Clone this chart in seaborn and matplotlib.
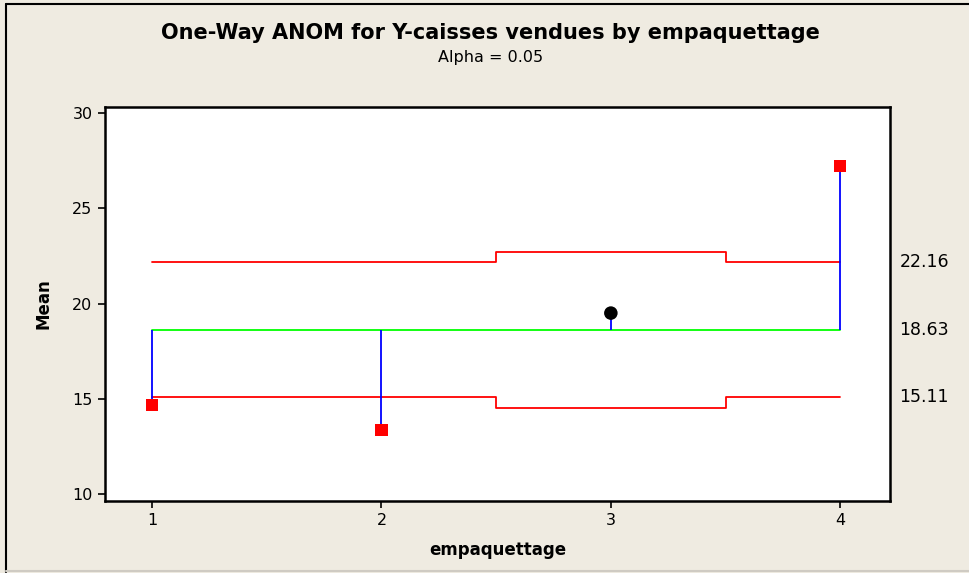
import numpy as np
import pandas as pd
import matplotlib
matplotlib.use("Agg")
import matplotlib.pyplot as plt
import matplotlib.transforms as mtransforms
from matplotlib.lines import Line2D
import seaborn as sns

# ---- data ----
groups = [1, 2, 3, 4]
group_means = [14.67, 13.36, 19.50, 27.20]
upper_limits = [22.16, 22.16, 22.72, 22.16]
lower_limits = [15.11, 15.11, 14.54, 15.11]
center = 18.63
limit_labels = ["22.16", "18.63", "15.11"]
limit_values = [22.16, 18.63, 15.11]
out_of_limits = [True, True, False, True]

bg = "#EFEBE1"
sns.set_theme(style="white")
plt.rcParams["font.family"] = ["DejaVu Sans"]
plt.rcParams["text.color"] = "black"
plt.rcParams["axes.labelcolor"] = "black"

df = pd.DataFrame({"group": groups, "mean": group_means,
                   "udl": upper_limits, "ldl": lower_limits,
                   "center": [center] * len(groups),
                   "flag": ["out" if o else "in" for o in out_of_limits]})

fig = plt.figure(figsize=(9.69, 5.73), dpi=100, facecolor=bg)
ax = fig.add_axes([0.1084, 0.1262, 0.8101, 0.6871])
ax.set_facecolor("white")

# decision limits (stepped) and center line
sns.lineplot(data=df, x="group", y="udl", ax=ax, color="#FF0000", lw=1.3,
             drawstyle="steps-mid")
sns.lineplot(data=df, x="group", y="ldl", ax=ax, color="#FF0000", lw=1.3,
             drawstyle="steps-mid")
sns.lineplot(data=df, x="group", y="center", ax=ax, color="#00FF00", lw=1.3)

# stems from center to mean
ax.vlines(df["group"], df["center"], df["mean"], color="#0000FF", lw=1.3, zorder=3)

# points
out = df[df["flag"] == "out"]
inn = df[df["flag"] == "in"]
sns.scatterplot(data=out, x="group", y="mean", ax=ax, marker="s", s=80,
                color="#FF0000", edgecolor="none", zorder=4)
sns.scatterplot(data=inn, x="group", y="mean", ax=ax, marker="o", s=95,
                color="black", edgecolor="none", zorder=4)

ax.set_xlim(0.795, 4.217)
ax.set_ylim(9.66, 30.31)
ax.set_xticks(groups)
ax.set_yticks([10, 15, 20, 25, 30])
ax.tick_params(axis="both", direction="out", length=5, width=1.2, colors="black",
               labelsize=11.5, pad=4, bottom=True, left=True)
for sp in ax.spines.values():
    sp.set_color("black")
    sp.set_linewidth(1.8)

ax.set_xlabel("empaquettage", fontsize=12, fontweight="bold", labelpad=9)
ax.set_ylabel("Mean", fontsize=12, fontweight="bold", labelpad=14)

# limit labels on the right
trans = mtransforms.blended_transform_factory(ax.transAxes, ax.transData)
for lab, val in zip(limit_labels, limit_values):
    ax.text(1.012, val, lab, transform=trans, ha="left", va="center", fontsize=12.5)

fig.text(0.506, 0.942, "One-Way ANOM for Y-caisses vendues by empaquettage",
         ha="center", va="center", fontsize=15, fontweight="bold")
fig.text(0.506, 0.899, "Alpha = 0.05", ha="center", va="center", fontsize=11.5)

# window frame
fig.add_artist(Line2D([0.006, 0.006], [0.002, 0.993], transform=fig.transFigure,
                      color="black", lw=1.5))
fig.add_artist(Line2D([0.006, 1.0], [0.993, 0.993], transform=fig.transFigure,
                      color="black", lw=1.5))
fig.add_artist(Line2D([0.006, 1.0], [0.003, 0.003], transform=fig.transFigure,
                      color="#CFCBC3", lw=1.5))

fig.savefig("out.png", dpi=100, facecolor=bg)
